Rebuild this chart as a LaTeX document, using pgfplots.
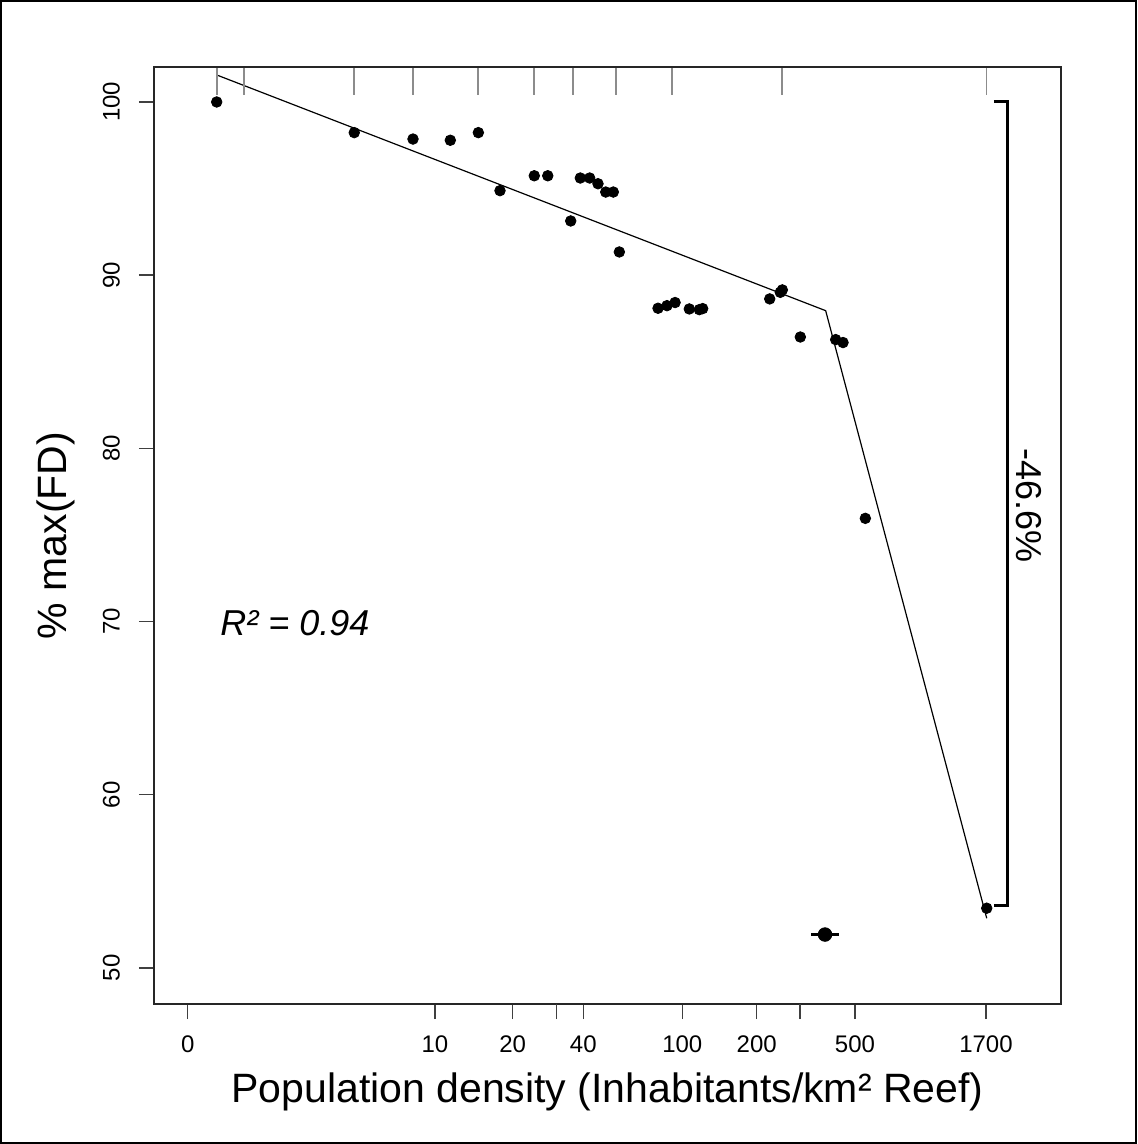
\documentclass[border=0pt]{standalone}
\usepackage{pgfplots}
\pgfplotsset{compat=1.18}
\usepackage{fontspec}
\setmainfont{Liberation Sans}
\begin{document}
\begin{tikzpicture}
\useasboundingbox (-77pt,-70pt) rectangle (491.5pt,502pt);
\draw[line width=1pt] (-76.5pt,-69.5pt) rectangle (491pt,501.5pt);
\begin{axis}[
  at={(0pt,0pt)}, anchor=south west,
  scale only axis, width=453.5pt, height=468.5pt,
  xmin=-0.3126, xmax=8.101, ymin=47.92, ymax=102.02,
  xtick={0,2.294,3.014,3.670,4.588,5.278,6.190,7.405},
  xticklabels={0,10,20,40,100,200,500,1700},
  extra x ticks={3.422,5.680}, extra x tick labels={},
  ytick={50,60,70,80,90,100},
  xtick pos=bottom, ytick pos=left,
  tick align=outside, major tick length=7.5pt,
  tick style={black!75, line width=0.7pt},
  axis line style={black!85, line width=0.8pt},
  /pgf/number format/assume math mode=true,
  every tick label/.append style={font=\fontsize{12}{14}\selectfont},
  xticklabel style={font=\fontsize{12}{14}\selectfont},
  yticklabel style={rotate=90, anchor=south, font=\fontsize{12}{14}\selectfont},
  xticklabel shift=5pt,
  yticklabel shift=6pt,
  xlabel={Population density (Inhabitants/km² Reef)},
  ylabel={\% max(FD)},
  label style={font=\fontsize{20.5}{24}\selectfont},
  xlabel style={at={(axis description cs:0.5,-0.0935)}, anchor=center},
  ylabel style={at={(axis description cs:-0.1080,0.5)}, anchor=center, rotate=0},
  clip=false,
]
% fitted segmented line
\addplot[black, line width=0.6pt, no markers] coordinates {
  (0.269,101.56) (5.918,87.95) (7.412,52.87)};
% observations
\addplot[only marks, mark=*, mark size=2.65pt, black] coordinates {
  (0.269,100.00) (1.545,98.23) (2.090,97.86) (2.436,97.79) (2.696,98.23)
  (2.897,94.88) (3.215,95.74) (3.340,95.74) (3.553,93.13) (3.642,95.61)
  (3.729,95.61) (3.806,95.28) (3.878,94.80) (3.948,94.80) (4.004,91.34)
  (4.363,88.09) (4.446,88.24) (4.521,88.42) (4.653,88.05) (4.746,88.01)
  (4.777,88.07) (5.399,88.63) (5.497,89.01) (5.516,89.15) (5.683,86.43)
  (6.011,86.28) (6.079,86.11) (6.286,75.96) (7.412,53.45)};
% breakpoint estimate with its range
\addplot[only marks, mark=*, mark size=3.4pt, black,
  error bars/.cd, x dir=both, x explicit, error mark=none,
  error bar style={line width=1.1pt, black}] coordinates {
  (5.912,51.93) +- (0.13,0)};
% bracket
\addplot[black, line width=1.5pt, no markers] coordinates {
  (7.479,100) (7.609,100) (7.609,53.6) (7.479,53.6)};
\node[rotate=-90, font=\fontsize{18}{20}\selectfont] at (axis cs:7.806,76.7) {-46.6\%};
\node[font=\fontsize{18}{20}\itshape\selectfont] at (axis cs:0.995,69.9) {R² = 0.94};
\end{axis}
\begin{axis}[
  at={(0pt,0pt)}, anchor=south west,
  scale only axis, width=453.5pt, height=468.5pt,
  xmin=-0.3126, xmax=8.101, ymin=47.92, ymax=102.02,
  axis x line*=top, axis y line=none,
  xtick={0.272,0.522,1.543,2.090,2.693,3.213,3.574,3.973,4.492,5.513,7.412},
  xticklabels={},
  tick align=inside, major tick length=14pt,
  tick style={black!45, line width=0.7pt},
  axis line style={black!85, line width=0.8pt},
]
\end{axis}
\end{tikzpicture}
\end{document}
